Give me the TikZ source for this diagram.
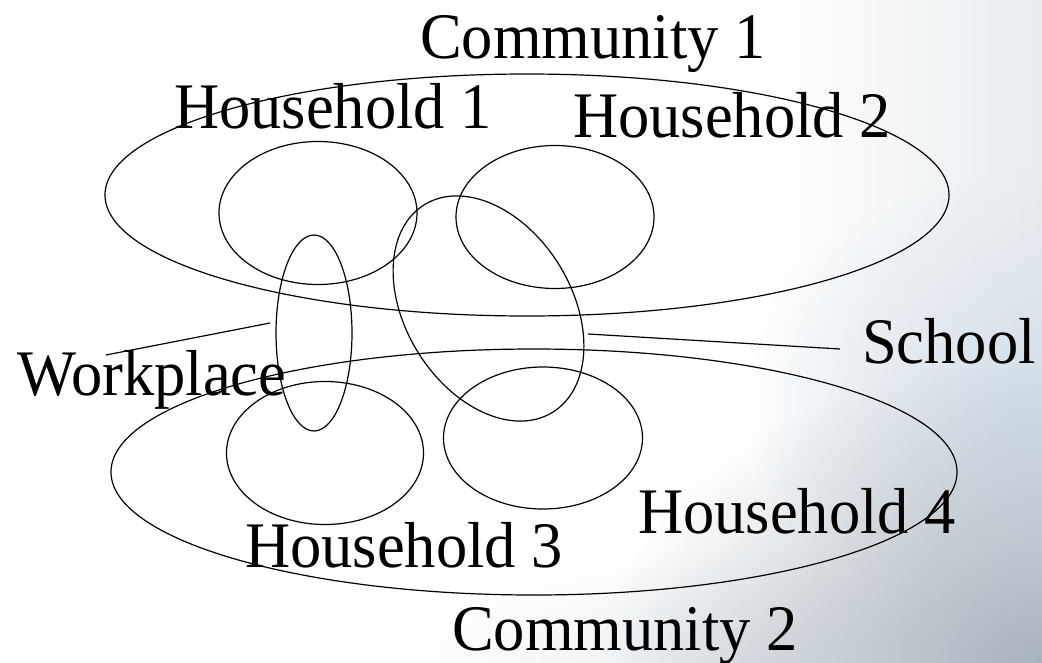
\documentclass[tikz,border=0pt]{standalone}
\usepackage{fontspec}
\setmainfont{Liberation Serif}
\usetikzlibrary{shapes.geometric,fadings}
\tikzfading[name=softglow, inner color=transparent!0, outer color=transparent!100]
\definecolor{bgblue}{HTML}{D4DFE9}
\definecolor{bggray}{HTML}{A9B3BD}
\definecolor{bglight}{HTML}{E9EDF0}
\tikzset{
  ring/.style={draw=black, line width=1.2pt, ellipse, inner sep=0pt, fill=none},
  lbl/.style={anchor=base west, inner sep=0pt, font=\fontsize{62.5}{70}\selectfont},
  leader/.style={draw=black, line width=1.2pt}
}
\begin{document}
\begin{tikzpicture}[x=1pt,y=-1pt]
\useasboundingbox (0,0) rectangle (1042,662);
% background
\fill[white] (0,0) rectangle (1042,662);
\fill[left color=white, right color=bglight] (760,0) rectangle (1042,662);
\fill[bgblue, path fading=softglow] (1042,400) ellipse [x radius=300, y radius=230];
\fill[bglight, path fading=softglow] (760,662) ellipse [x radius=360, y radius=110];
\fill[bggray, path fading=softglow] (1042,662) ellipse [x radius=440, y radius=300];
% communities
\node[ring, minimum width=844pt, minimum height=242pt] (c1) at (527,195) {};
\node[ring, minimum width=846pt, minimum height=246pt] (c2) at (534,472) {};
% households
\node[ring, minimum width=198pt, minimum height=143pt] (h1) at (318,213) {};
\node[ring, minimum width=198pt, minimum height=143pt] (h2) at (555,217) {};
\node[ring, minimum width=197pt, minimum height=143pt] (h3) at (325,453) {};
\node[ring, minimum width=199pt, minimum height=142pt] (h4) at (543,438) {};
% workplace and school
\node[ring, minimum width=76pt, minimum height=196pt] (work) at (314,333) {};
\node[ring, minimum width=244pt, minimum height=166pt, rotate=-58.25] (school) at (488.5,308.5) {};
% labels
\node[lbl, yscale=1.04] (tc1) at (420,58) {Community 1};
\node[lbl, yscale=1.04] (th1) at (174,128) {Household 1};
\node[lbl, yscale=1.04] (th2) at (573,137) {Household 2};
\node[lbl, yscale=1.04] (tw) at (17,395) {Workplace};
\node[lbl, yscale=1.04] (ts) at (862,363) {School};
\node[lbl, yscale=1.04] (th3) at (245,567) {Household 3};
\node[lbl, yscale=1.04] (th4) at (638,533) {Household 4};
\node[lbl, yscale=1.04] (tc2) at (452,650) {Community 2};
% leaders
\coordinate (wa) at (106,355);
\coordinate (wb) at (270,323);
\coordinate (sa) at (588,334);
\coordinate (sb) at (840,349);
\draw[leader] (wa) -- (wb);
\draw[leader] (sa) -- (sb);
\end{tikzpicture}
\end{document}
